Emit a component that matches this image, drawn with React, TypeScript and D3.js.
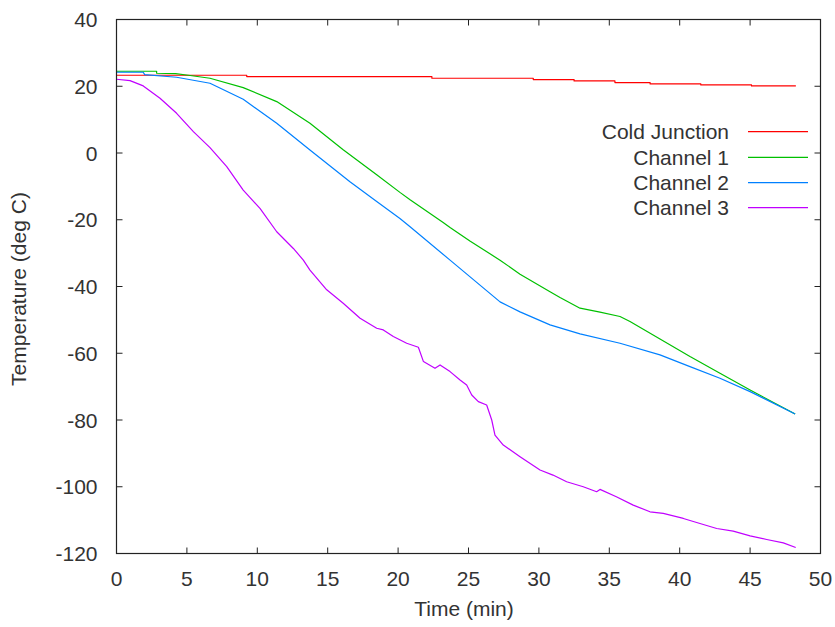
import React from "react";
import * as d3 from "d3";

const xTicks = [0, 5, 10, 15, 20, 25, 30, 35, 40, 45, 50];
const yTicks = [-120, -100, -80, -60, -40, -20, 0, 20, 40];

const seriesNames = ["Cold Junction", "Channel 1", "Channel 2", "Channel 3"];
const seriesColors = ["#ff0000", "#00c000", "#0080ff", "#c000ff"];

// [time (min), temperature (deg C)]
const coldJunction: [number, number][] = [
  [0, 23.3], [9.25, 23.3], [9.25, 22.9], [22.4, 22.9], [22.4, 22.4],
  [29.6, 22.4], [29.6, 22.0], [32.5, 22.0], [32.5, 21.6], [35.4, 21.6],
  [35.4, 21.1], [37.9, 21.1], [37.9, 20.7], [41.5, 20.7], [41.5, 20.4],
  [45.1, 20.4], [45.1, 20.1], [48.25, 20.1],
];

const channel1: [number, number][] = [
  [0, 24.5], [2.85, 24.5], [2.85, 23.9], [4.2, 23.8], [5.1, 23.3],
  [6.64, 22.4], [9.0, 19.6], [11.38, 15.4], [13.74, 8.9], [16.1, 1.0],
  [18.48, -6.5], [20.13, -11.8], [20.85, -14.0], [23.2, -20.8], [23.69, -22.3],
  [25.1, -26.4], [27.24, -32.1], [28.66, -36.3], [30.79, -41.6], [31.5, -43.3],
  [32.92, -46.5], [34.34, -47.7], [35.76, -49.0], [36.47, -50.5], [38.6, -55.7],
  [40.73, -61.0], [42.86, -66.0], [45.0, -71.0], [48.2, -78.2],
];

const channel2: [number, number][] = [
  [0, 24.2], [1.9, 24.2], [2.0, 23.5], [4.27, 22.7], [6.64, 20.9],
  [9.0, 16.1], [11.38, 8.9], [13.74, 0.9], [16.58, -8.6], [18.48, -14.5],
  [20.13, -19.6], [20.85, -22.1], [23.69, -32.1], [27.24, -44.6], [28.66, -47.6],
  [30.79, -51.5], [32.92, -54.2], [35.76, -57.0], [38.6, -60.5], [40.73, -64.0],
  [42.86, -67.5], [45.0, -71.5], [48.2, -78.2],
];

const channel3: [number, number][] = [
  [0, 22.1], [0.96, 21.7], [1.9, 20.1], [3.09, 16.4], [4.27, 11.9],
  [5.46, 6.4], [6.64, 1.6], [7.83, -4.1], [9.0, -11.1], [10.19, -16.6],
  [11.38, -23.6], [12.56, -28.6], [13.27, -32.1], [13.74, -35.1], [14.93, -41.0],
  [16.1, -45.0], [17.3, -49.5], [18.48, -52.5], [18.95, -53.0], [19.66, -55.0],
  [20.61, -57.0], [21.44, -58.2], [21.8, -62.5], [22.62, -64.5], [22.98, -63.5],
  [23.69, -65.5], [24.4, -68.0], [24.87, -69.5], [25.23, -72.5], [25.7, -74.5],
  [26.29, -75.5], [26.65, -80.0], [26.88, -84.5], [27.47, -87.5], [28.66, -91.0],
  [30.08, -95.0], [31.0, -96.5], [31.97, -98.5], [33.15, -100.0], [34.1, -101.5],
  [34.34, -100.8], [35.5, -103.0], [36.7, -105.5], [37.89, -107.5], [38.83, -108.0],
  [40.26, -109.5], [41.44, -111.0], [42.63, -112.5], [43.8, -113.3], [45.0, -114.7],
  [46.18, -115.8], [47.36, -116.8], [48.24, -118.2],
];

const allSeries = [coldJunction, channel1, channel2, channel3];

const W = 835;
const H = 627;
const left = 116.5;
const right = 820.5;
const top = 19.5;
const bottom = 553.5;
const textColor = "#333";
const font = "'Liberation Sans', Arial, sans-serif";
const fs = 21;

export default function App() {
  const x = d3.scaleLinear().domain([0, 50]).range([left, right]);
  const y = d3.scaleLinear().domain([-120, 40]).range([bottom, top]);
  const line = d3
    .line<[number, number]>()
    .x((d) => x(d[0]))
    .y((d) => y(d[1]));
  const tickLen = 6;
  const legendY = [131.7, 157.3, 182.7, 207.7];

  return (
    <svg
      width={W}
      height={H}
      style={{ position: "absolute", left: 0, top: 0, background: "#fff" }}
      fontFamily={font}
    >
      <rect x={0} y={0} width={W} height={H} fill="#fff" />
      {allSeries.map((s, i) => (
        <path
          key={i}
          d={line(s) || ""}
          fill="none"
          stroke={seriesColors[i]}
          strokeWidth={1.2}
          strokeLinejoin="round"
        />
      ))}
      <rect
        x={left}
        y={top}
        width={right - left}
        height={bottom - top}
        fill="none"
        stroke="#222"
        strokeWidth={1.2}
      />
      {xTicks.map((t) => (
        <g key={"x" + t}>
          <line x1={x(t)} x2={x(t)} y1={bottom} y2={bottom - tickLen} stroke="#222" />
          <line x1={x(t)} x2={x(t)} y1={top} y2={top + tickLen} stroke="#222" />
          <text x={x(t)} y={585.5} textAnchor="middle" fontSize={fs} fill={textColor}>
            {t}
          </text>
        </g>
      ))}
      {yTicks.map((t) => (
        <g key={"y" + t}>
          <line x1={left} x2={left + tickLen} y1={y(t)} y2={y(t)} stroke="#222" />
          <line x1={right} x2={right - tickLen} y1={y(t)} y2={y(t)} stroke="#222" />
          <text
            x={97.5}
            y={y(t)}
            dy="0.36em"
            textAnchor="end"
            fontSize={fs}
            fill={textColor}
          >
            {t}
          </text>
        </g>
      ))}
      <text
        transform={`translate(26, 289) rotate(-90)`}
        textAnchor="middle"
        fontSize={fs}
        fill={textColor}
      >
        Temperature (deg C)
      </text>
      <text x={464} y={616} textAnchor="middle" fontSize={fs} fill={textColor}>
        Time (min)
      </text>
      {seriesNames.map((name, i) => (
        <g key={name}>
          <text
            x={729}
            y={legendY[i]}
            dy="0.36em"
            textAnchor="end"
            fontSize={fs}
            fill={textColor}
          >
            {name}
          </text>
          <line
            x1={748}
            x2={808}
            y1={legendY[i]}
            y2={legendY[i]}
            stroke={seriesColors[i]}
            strokeWidth={1.2}
          />
        </g>
      ))}
    </svg>
  );
}
